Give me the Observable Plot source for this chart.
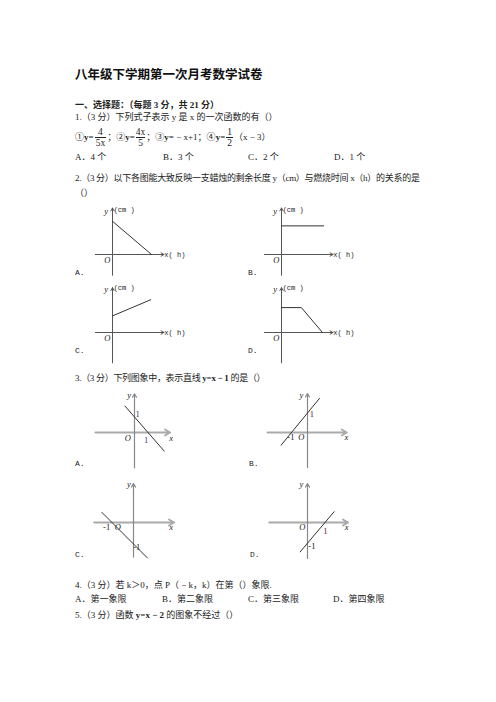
<!DOCTYPE html>
<html><head><meta charset="utf-8">
<script src="https://cdn.jsdelivr.net/npm/d3@7"></script>
<script src="https://cdn.jsdelivr.net/npm/@observablehq/plot@0.6"></script>
<style>
body{margin:0;background:#fff}
#page{position:relative;width:496px;height:702px;overflow:hidden;background:#fff;font-family:"Liberation Serif","Noto Sans CJK SC",serif;color:#222}
.t{position:absolute;font-size:9px;line-height:12px;white-space:nowrap}
.title{font-size:12.5px;line-height:16px;font-weight:bold;color:#111}
.b{font-weight:bold}
.g{position:absolute}
.g svg{display:block;overflow:visible}
.fr{display:inline-block;vertical-align:middle;text-align:center;line-height:10px;font-size:9.5px;margin:0 1px}
.fr .d{display:block;border-top:0.8px solid #222;padding:0 1px}
.lab{position:absolute;font-family:"Liberation Mono",monospace;font-size:8px;line-height:10px;color:#222}
</style></head><body><div id="page"></div>
<script>
// ---------- data ----------
// Question 2 (abstract units: length y vs. time x)
const q2UnitX = 7.8, q2UnitY = 8.3;
const q2AxisX = [-2.2, 6.6];
const q2AxisYAB = [-2.5, 5.6];
const q2AxisYCD = [-3.65, 5.4];
const q2LineA = [{x:0,y:4},{x:5,y:0}];
const q2LineB = [{x:0,y:3.45},{x:5.4,y:3.45}];
const q2LineC = [{x:0,y:2},{x:4.9,y:3.95}];
const q2LineD = [{x:0,y:3},{x:2.55,y:3},{x:5.25,y:0}];
const q2Labels = [
  {t:"y", x:-0.8, y:5.25, k:"it"},
  {t:"(cm )", x:0.15, y:5.35, k:"mono"},
  {t:"O", x:-0.65, y:-0.7, k:"it"},
  {t:"x( h)", x:6.65, y:-0.05, k:"mono"}
];
// Question 3 lines (y = -x+1, y = x+1, y = -x-1, y = x-1 as drawn)
const q3LineA = [{x:-0.7,y:1.7},{x:2.2,y:-1.2}];
const q3LineB = [{x:-1.65,y:-0.65},{x:0.75,y:1.75}];
const q3LineC = [{x:-1.47,y:0.47},{x:0.65,y:-1.65}];
const q3LineD = [{x:-0.42,y:-1.42},{x:1.52,y:0.52}];
const q3AxisXA = [-2.9, 2.64], q3AxisYA = [-2.28, 2.5];
const q3AxisXB = [-2.5, 2.46], q3AxisYB = [-1.8, 2.0];
const q3AxisXC = [-1.83, 1.89], q3AxisYC = [-1.61, 1.81];
const q3AxisXD = [-2.19, 2.32], q3AxisYD = [-1.74, 1.88];
const q3LabelsA = [
  {t:"y",x:-0.39,y:2.43,k:"it"},{t:"1",x:0.24,y:1.2,k:"n"},{t:"O",x:-0.49,y:-0.34,k:"it"},
  {t:"1",x:0.87,y:-0.47,k:"n"},{t:"x",x:2.72,y:-0.34,k:"it"}];
const q3LabelsB = [
  {t:"y",x:-0.38,y:1.93,k:"it"},{t:"1",x:0.27,y:0.91,k:"n"},{t:"-1",x:-1.04,y:-0.26,k:"n"},
  {t:"O",x:-0.39,y:-0.26,k:"it"},{t:"x",x:2.43,y:-0.27,k:"it"}];
const q3LabelsC = [
  {t:"y",x:-0.22,y:1.78,k:"it"},{t:"-1",x:-1.25,y:-0.22,k:"n"},{t:"O",x:-0.73,y:-0.22,k:"it"},
  {t:"-1",x:0.15,y:-1.16,k:"n"},{t:"x",x:1.75,y:-0.22,k:"it"}];
const q3LabelsD = [
  {t:"y",x:-0.35,y:1.85,k:"it"},{t:"O",x:-0.3,y:-0.23,k:"it"},{t:"1",x:1.02,y:-0.41,k:"n"},
  {t:"-1",x:0.25,y:-1.14,k:"n"},{t:"x",x:2.23,y:-0.23,k:"it"}];

// ---------- page text ----------
const page = document.getElementById("page");
function txt(html, left, top, cls){
  const d = document.createElement("div");
  d.className = "t" + (cls ? " " + cls : "");
  d.style.left = left + "px"; d.style.top = top + "px";
  d.innerHTML = html; page.appendChild(d); return d;
}
function lab(s, left, top){
  const d = document.createElement("div");
  d.className = "lab"; d.style.left = left+"px"; d.style.top = top+"px";
  d.textContent = s; page.appendChild(d);
}
txt("八年级下学期第一次月考数学试卷", 75, 67, "title");
txt("一、选择题：（每题 3 分，共 21 分）", 75, 99, "b");
txt("1.（3 分）下列式子表示 y 是 x 的一次函数的有（）", 75, 111);
const f = txt('①<b>y=</b><span class="fr"><span>4</span><span class="d">5x</span></span>；②<b>y=</b><span class="fr"><span>4x</span><span class="d">5</span></span>；③<b>y=</b> − x+1；④<b>y=</b><span class="fr"><span>1</span><span class="d">2</span></span>（x − 3）', 75, 127);
f.style.lineHeight = "20px";
const q1opts = ["A．4 个","B．3 个","C．2 个","D．1 个"];
[75,163,248,334].forEach((x,i)=>txt(q1opts[i], x, 151));
const q2t = txt("2.（3 分）以下各图能大致反映一支蜡烛的剩余长度 y（cm）与燃烧时间 x（h）的关系的是", 75, 172);
q2t.style.letterSpacing = "-0.28px";
txt("（）", 75, 187);
lab("A.", 75, 268); lab("B.", 248, 268); lab("C.", 75, 346); lab("D.", 248, 346);
const q3t = txt('3.（3 分）下列图象中，表示直线 <b>y=x − 1</b> 的是（）', 75, 372);
q3t.style.letterSpacing = "-0.3px";
lab("A.", 75, 459); lab("B.", 249, 459); lab("C.", 75, 550); lab("D.", 250, 550);
txt('4.（3 分）若 k＞0，点 P（ − k，k）在第（）象限.', 75, 579);
const q4opts = ["A．第一象限","B．第二象限","C．第三象限","D．第四象限"];
[75,162,248,333].forEach((x,i)=>txt(q4opts[i], x, 593));
txt('5.（3 分）函数 <b>y=x − 2</b> 的图象不经过（）', 75, 609);

// ---------- graphs ----------
function graph(o){
  const w = o.w, h = o.h, ox = o.ox, oy = o.oy;
  const serif = "Liberation Serif, serif";
  const marks = [
    Plot.arrow([{x1:o.ax[0],y1:0,x2:o.ax[1],y2:0}], {x1:"x1",y1:"y1",x2:"x2",y2:"y2",
      stroke:o.xStroke, strokeWidth:o.xWidth, headLength:o.head, headAngle:60}),
    Plot.arrow([{x1:0,y1:o.ay[0],x2:0,y2:o.ay[1]}], {x1:"x1",y1:"y1",x2:"x2",y2:"y2",
      stroke:o.yStroke, strokeWidth:o.yWidth, headLength:o.head, headAngle:60}),
    Plot.line(o.line, {x:"x", y:"y", stroke:"#333", strokeWidth:1}),
    Plot.text(o.labels.filter(d=>d.k==="it"), {x:"x", y:"y", text:"t", fontFamily:serif,
      fontStyle:"italic", fontSize:8.5, fill:"#222"}),
    Plot.text(o.labels.filter(d=>d.k==="n"), {x:"x", y:"y", text:"t", fontFamily:serif,
      fontSize:8.5, fill: d => d.t==="1" ? o.accent : "#222"}),
    Plot.text(o.labels.filter(d=>d.k==="mono"), {x:"x", y:"y", text:"t", fontFamily:"Liberation Mono, monospace",
      fontSize:7, textAnchor:"start", fill:"#222"})
  ];
  const svg = Plot.plot({
    width:w, height:h, margin:0,
    x:{domain:[-ox/o.ux,(w-ox)/o.ux], range:[0,w], axis:null},
    y:{domain:[-(h-oy)/o.uy, oy/o.uy], range:[h,0], axis:null},
    style:{background:"transparent", overflow:"visible"},
    marks
  });
  const d = document.createElement("div");
  d.className = "g";
  d.style.left = (o.OX-ox)+"px"; d.style.top = (o.OY-oy)+"px";
  d.appendChild(svg); page.appendChild(d);
}
const q2Common = {w:100,h:90,ox:22,oy:56,ux:q2UnitX,uy:q2UnitY,ax:q2AxisX,labels:q2Labels,
  xStroke:"#555",xWidth:1,yStroke:"#555",yWidth:1,head:5,accent:"#222"};
graph({...q2Common, OX:112, OY:254.3, ay:q2AxisYAB, line:q2LineA});
graph({...q2Common, OX:280.7, OY:254.3, ay:q2AxisYAB, line:q2LineB});
graph({...q2Common, OX:111.7, OY:331.7, ay:q2AxisYCD, line:q2LineC});
graph({...q2Common, OX:280.7, OY:331.7, ay:q2AxisYCD, line:q2LineD});
const q3Common = {w:95,h:95,ox:45,oy:45,xStroke:"#aaa",xWidth:1.8,yStroke:"#888",yWidth:1.2,head:5};
graph({...q3Common, OX:134.3, OY:431.7, ux:13.5, uy:15.5, ax:q3AxisXA, ay:q3AxisYA, line:q3LineA, labels:q3LabelsA, accent:"#2b3f7a"});
graph({...q3Common, OX:306.7, OY:431.7, ux:16, uy:19.5, ax:q3AxisXB, ay:q3AxisYB, line:q3LineB, labels:q3LabelsB, accent:"#5a2418"});
graph({...q3Common, OX:133.3, OY:522.3, ux:21.5, uy:21.5, ax:q3AxisXC, ay:q3AxisYC, line:q3LineC, labels:q3LabelsC, accent:"#222"});
graph({...q3Common, OX:306.7, OY:522.3, ux:17.5, uy:20.7, ax:q3AxisXD, ay:q3AxisYD, line:q3LineD, labels:q3LabelsD, accent:"#5a2418"});
</script></body></html>
